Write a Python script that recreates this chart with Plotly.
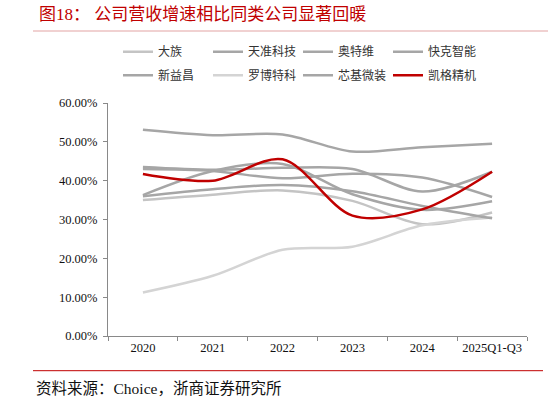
import plotly.graph_objects as go

categories = ["2020", "2021", "2022", "2023", "2024", "2025Q1-Q3"]

dazu = [35.0, 36.4, 37.5, 34.8, 28.8, 31.8]
tianzhun = [53.1, 51.7, 51.9, 47.5, 48.6, 49.5]
aotewei = [43.5, 42.8, 43.3, 43.0, 37.2, 42.3]
kuaike = [43.0, 42.5, 40.6, 41.8, 40.8, 35.8]
xinyichang = [36.3, 42.5, 44.3, 36.5, 32.5, 34.7]
luobo = [11.2, 15.5, 22.2, 23.0, 28.5, 30.5]
xinji = [36.0, 37.8, 38.9, 37.3, 33.5, 30.3]
kaige = [41.7, 40.0, 45.5, 31.0, 32.6, 42.3]

series = [
    ("大族", dazu, "#c4c4c4", "legend"),
    ("天准科技", tianzhun, "#a6a6a6", "legend"),
    ("奥特维", aotewei, "#a6a6a6", "legend"),
    ("快克智能", kuaike, "#a6a6a6", "legend"),
    ("新益昌", xinyichang, "#a6a6a6", "legend2"),
    ("罗博特科", luobo, "#d4d4d4", "legend2"),
    ("芯基微装", xinji, "#a6a6a6", "legend2"),
    ("凯格精机", kaige, "#c00000", "legend2"),
]

W, Hh = 548, 402
L, R, T, B = 108, 527, 103, 336
PW, PH = R - L, B - T


def px_x(x):
    return (x - L) / PW


def px_y(y):
    return (B - y) / PH


fig = go.Figure()
for name, vals, color, lg in series:
    fig.add_trace(go.Scatter(
        x=categories, y=vals, name=name, mode="lines",
        line=dict(color=color, width=2.5, shape="spline", smoothing=0.9),
        legend=lg,
    ))

serif = "Liberation Serif, Noto Sans CJK SC"
cjk = "Liberation Serif, Noto Sans CJK SC"

leg_common = dict(
    orientation="h", xanchor="left", yanchor="middle",
    entrywidth=45, entrywidthmode="pixels", itemwidth=30,
    font=dict(family="Noto Sans CJK SC", size=12, color="#333333"),
    bgcolor="rgba(0,0,0,0)", borderwidth=0, traceorder="normal",
)

fig.update_layout(
    width=W, height=Hh,
    margin=dict(l=L, r=W - R, t=T, b=Hh - B, pad=0),
    paper_bgcolor="white", plot_bgcolor="white",
    showlegend=True,
    legend=dict(x=px_x(118), y=px_y(51.7), **leg_common),
    legend2=dict(x=px_x(118), y=px_y(75.3), **leg_common),
    xaxis=dict(
        type="category", range=[-0.5, 5.5], showgrid=False,
        showline=True, linecolor="#898989", linewidth=1,
        ticks="outside", ticklen=4, tickcolor="#898989", tickson="boundaries",
        tickfont=dict(family=serif, size=12.5, color="#111111"),
        zeroline=False,
    ),
    yaxis=dict(
        range=[0, 60], dtick=10, tick0=0, showgrid=False,
        showline=True, linecolor="#898989", linewidth=1,
        ticks="outside", ticklen=4, tickcolor="#898989",
        tickformat=".2f", ticksuffix="%", ticklabelstandoff=3,
        tickfont=dict(family=serif, size=12.5, color="#111111"),
        zeroline=False,
    ),
)

# title
fig.add_annotation(
    x=px_x(37), y=px_y(15), xref="paper", yref="paper",
    xanchor="left", yanchor="middle", showarrow=False,
    text="图18：\u00a0公司营收增速相比同类公司显著回暖",
    font=dict(family=cjk, size=17, color="#c00000"),
)
# source
fig.add_annotation(
    x=px_x(34), y=px_y(388), xref="paper", yref="paper",
    xanchor="left", yanchor="middle", showarrow=False,
    text="资料来源：Choice，浙商证券研究所",
    font=dict(family=cjk, size=15.5, color="#111111"),
)
# rules
fig.add_shape(type="line", xref="paper", yref="paper",
              x0=px_x(33), x1=px_x(548), y0=px_y(31), y1=px_y(31),
              line=dict(color="#e2a3a3", width=1))
fig.add_shape(type="line", xref="paper", yref="paper",
              x0=px_x(33), x1=px_x(543), y0=px_y(370.7), y1=px_y(370.7),
              line=dict(color="#c00000", width=1))

fig.write_html("out.html")
